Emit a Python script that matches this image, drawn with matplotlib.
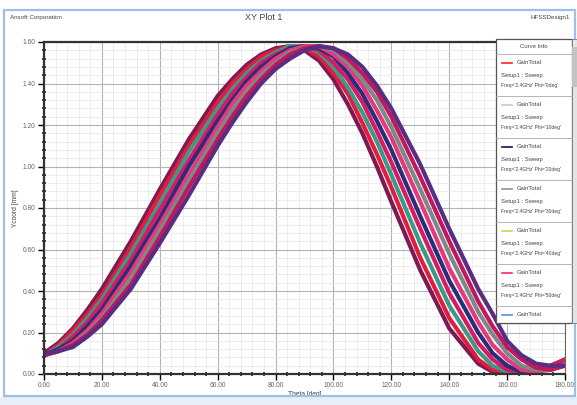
import matplotlib
matplotlib.use("Agg")
import matplotlib.pyplot as plt
from matplotlib.patches import Rectangle
from matplotlib.ticker import MultipleLocator

plt.rcParams['font.family'] = ['Liberation Sans', 'DejaVu Sans']

# theta samples [deg]
theta = [0, 5, 10, 15, 20, 30, 40, 50, 60, 65, 70, 75, 80, 85, 90, 95,
         100, 105, 110, 115, 120, 130, 140, 150, 155, 160, 165, 170, 175, 180]

# gain curves (left-most peak first)
c1 = [0.10, 0.15, 0.22, 0.31, 0.41, 0.64, 0.89, 1.13, 1.34, 1.42, 1.49, 1.54, 1.57, 1.58, 1.56, 1.51,
      1.42, 1.30, 1.16, 1.00, 0.83, 0.50, 0.22, 0.05, 0.01, 0.01, 0.01, 0.02, 0.04, 0.07]
c2 = [0.09, 0.14, 0.21, 0.29, 0.38, 0.61, 0.86, 1.10, 1.31, 1.40, 1.47, 1.53, 1.56, 1.58, 1.57, 1.53,
      1.45, 1.35, 1.21, 1.06, 0.90, 0.56, 0.27, 0.07, 0.02, 0.01, 0.01, 0.02, 0.04, 0.07]
c3 = [0.09, 0.13, 0.19, 0.27, 0.36, 0.58, 0.82, 1.07, 1.28, 1.37, 1.45, 1.51, 1.55, 1.58, 1.58, 1.55,
      1.48, 1.38, 1.26, 1.12, 0.96, 0.63, 0.33, 0.11, 0.04, 0.01, 0.01, 0.02, 0.03, 0.06]
c4 = [0.09, 0.12, 0.18, 0.25, 0.34, 0.55, 0.79, 1.03, 1.25, 1.35, 1.43, 1.50, 1.54, 1.57, 1.58, 1.56,
      1.50, 1.42, 1.31, 1.17, 1.02, 0.70, 0.39, 0.15, 0.07, 0.02, 0.01, 0.02, 0.03, 0.06]
c5 = [0.09, 0.12, 0.16, 0.23, 0.31, 0.52, 0.75, 1.00, 1.22, 1.32, 1.41, 1.48, 1.53, 1.57, 1.58, 1.57,
      1.53, 1.45, 1.35, 1.22, 1.08, 0.76, 0.45, 0.20, 0.10, 0.04, 0.01, 0.01, 0.03, 0.05]
c6 = [0.09, 0.11, 0.15, 0.21, 0.29, 0.49, 0.72, 0.96, 1.19, 1.30, 1.39, 1.46, 1.52, 1.56, 1.58, 1.58,
      1.54, 1.48, 1.39, 1.27, 1.14, 0.83, 0.51, 0.25, 0.14, 0.07, 0.02, 0.01, 0.02, 0.05]
c7 = [0.09, 0.11, 0.14, 0.20, 0.27, 0.46, 0.69, 0.93, 1.16, 1.27, 1.36, 1.44, 1.50, 1.55, 1.57, 1.58,
      1.56, 1.50, 1.42, 1.32, 1.19, 0.89, 0.58, 0.30, 0.19, 0.10, 0.04, 0.02, 0.02, 0.04]
c8 = [0.09, 0.11, 0.14, 0.19, 0.26, 0.43, 0.66, 0.90, 1.13, 1.24, 1.34, 1.42, 1.49, 1.54, 1.57, 1.58,
      1.57, 1.52, 1.45, 1.36, 1.24, 0.95, 0.64, 0.35, 0.23, 0.13, 0.07, 0.03, 0.02, 0.04]
c9 = [0.10, 0.11, 0.13, 0.18, 0.24, 0.41, 0.63, 0.86, 1.10, 1.21, 1.31, 1.40, 1.47, 1.52, 1.56, 1.58,
      1.57, 1.54, 1.48, 1.39, 1.28, 1.01, 0.70, 0.41, 0.29, 0.16, 0.09, 0.05, 0.04, 0.04]
curves = [c1, c2, c3, c4, c5, c6, c7, c8, c9]
curve_colors = ['#7d1a55', '#e31c3d', '#3a9a8a', '#d81b60', '#2b2d7c',
                '#e6397a', '#7a8a8a', '#c2185b', '#5a2d82']

x_ticks = [0, 20, 40, 60, 80, 100, 120, 140, 160, 180]
y_ticks = [0.0, 0.2, 0.4, 0.6, 0.8, 1.0, 1.2, 1.4, 1.6]

legend_colors = ['#ff2020', '#c8c8c8', '#101060', '#909090', '#c8d850', '#f03060', '#6090e0']
legend_phi = ['0deg', '10deg', '20deg', '30deg', '40deg', '50deg', '60deg']

W, H = 577, 405
fig = plt.figure(figsize=(W / 100, H / 100), dpi=100)
fig.patch.set_facecolor('white')

ax = fig.add_axes([44 / W, 1 - 374 / H, (565 - 44) / W, (374 - 42) / H])
for c, col in zip(curves, curve_colors):
    ax.plot(theta, c, color=col, lw=3.0, solid_capstyle='round', solid_joinstyle='round')

ax.set_xlim(0, 180)
ax.set_ylim(0, 1.6)
ax.set_xticks(x_ticks)
ax.set_xticklabels(['%.2f' % v for v in x_ticks])
ax.set_yticks(y_ticks)
ax.set_yticklabels(['%.2f' % v for v in y_ticks])
ax.xaxis.set_minor_locator(MultipleLocator(4))
ax.yaxis.set_minor_locator(MultipleLocator(0.04))
ax.grid(which='major', color='#b4b4b4', lw=0.8)
ax.grid(which='minor', color='#e6e6e6', lw=0.5)
ax.set_axisbelow(True)
ax.tick_params(which='major', direction='out', length=4, width=1, labelsize=4.8,
               labelcolor='#666666', pad=2)
ax.tick_params(which='minor', direction='inout', length=3, width=1.3, color='#333333')
ax.tick_params(top=False, right=False)
for s in ['left', 'bottom', 'top']:
    ax.spines[s].set_linewidth(1.6)
    ax.spines[s].set_color('#333333')
ax.spines['right'].set_linewidth(0.8)
ax.spines['right'].set_color('#666666')
ax.set_xlabel('Theta [deg]', fontsize=4.8, color='#444444', labelpad=1)
ax.set_ylabel('Ycoord [mm]', fontsize=4.8, color='#444444', labelpad=3)

# overlay in pixel coords for frame, header and curve info box
ov = fig.add_axes([0, 0, 1, 1], zorder=5)
ov.set_xlim(0, W)
ov.set_ylim(H, 0)
ov.axis('off')
ov.patch.set_alpha(0)

ov.add_patch(Rectangle((0, 397), W, 8, facecolor='#e6eff9', edgecolor='none'))
ov.add_patch(Rectangle((4, 10), W - 6, 386, fill=False, edgecolor='#9fc0e4', lw=1.6))
ov.text(10, 18, 'Ansoft Corporation', fontsize=4.5, color='#444444', va='center')
ov.text(264, 18, 'XY Plot 1', fontsize=6.5, color='#444444', va='center', ha='center')
ov.text(570, 18, 'HFSSDesign1', fontsize=4.5, color='#444444', va='center', ha='right')

# curve info box
bx0, by0, bx1, by1 = 496, 39, 572, 323
ov.add_patch(Rectangle((bx0, by0), bx1 - bx0, by1 - by0, facecolor='white',
                       edgecolor='#555555', lw=0.9))
ov.add_patch(Rectangle((bx1, by0), 5, by1 - by0, facecolor='#e4e4e4',
                       edgecolor='#777777', lw=0.6))
ov.add_patch(Rectangle((bx1, by0 + 8), 5, 40, facecolor='#c4c4c4', edgecolor='none'))
ov.text((bx0 + bx1) / 2, 46, 'Curve Info', fontsize=4.3, color='#444444',
        ha='center', va='center')
for i, (col, phi) in enumerate(zip(legend_colors, legend_phi)):
    top = 54 + i * 42
    ov.plot([bx0, bx1], [top, top], color='#aaaaaa', lw=0.6)
    ov.plot([502, 512], [top + 9, top + 9], color=col, lw=1.2)
    ov.text(517, top + 9, 'GainTotal', fontsize=4.2, color='#444444', va='center')
    if top + 23 < by1 - 3:
        ov.text(501, top + 22, 'Setup1 : Sweep', fontsize=4.2, color='#444444', va='center')
    if top + 33 < by1 - 3:
        ov.text(501, top + 32, "Freq='2.4GHz' Phi='%s'" % phi, fontsize=3.6,
                color='#444444', va='center')

fig.savefig('out.png', dpi=100)
